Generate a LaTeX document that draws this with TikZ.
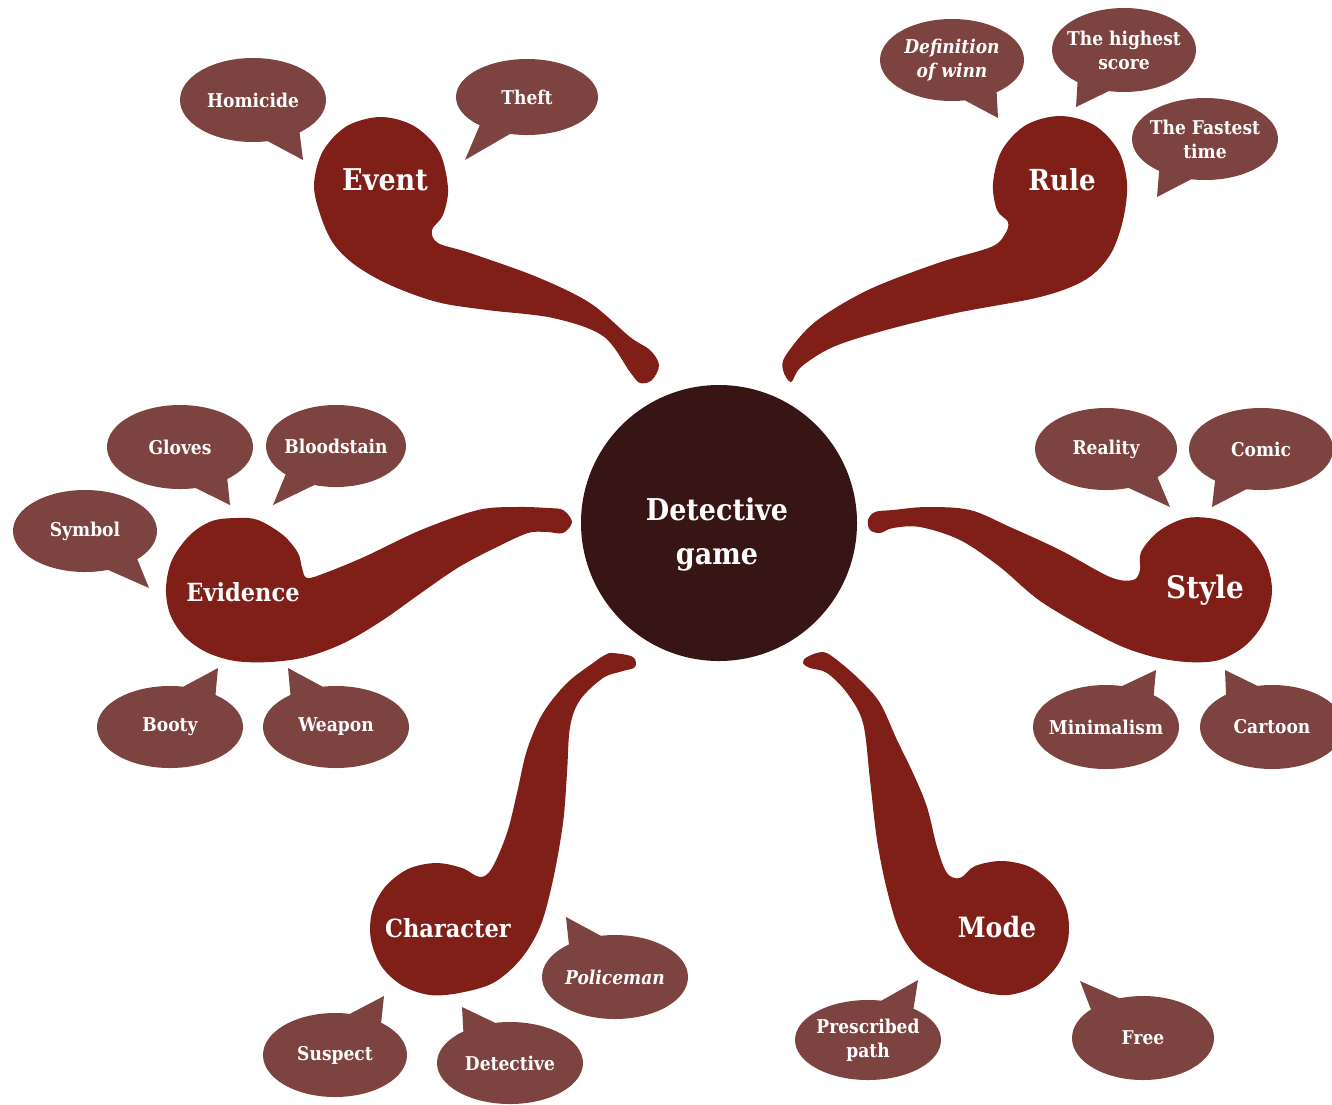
\documentclass[tikz,border=0pt]{standalone}
\usepackage{fontspec}
\setmainfont{DejaVu Serif Condensed}
\usetikzlibrary{calc}

\definecolor{pipered}{HTML}{801E18}
\definecolor{bubbrown}{HTML}{7D4340}
\definecolor{hubdark}{HTML}{371514}

\tikzset{
  bubfill/.style={fill=bubbrown},
  bubtext/.style={text=white, align=center, inner sep=0pt,
    font=\bfseries\fontsize{19}{24}\selectfont},
  pipelabel/.style={text=white, inner sep=0pt, font=\bfseries\fontsize{#1}{#1}\selectfont},
  hub/.style={circle, fill=hubdark, minimum size=276pt, inner sep=0pt},
  hubtext/.style={text=white, align=center, inner sep=0pt,
    font=\bfseries\fontsize{30}{44}\selectfont}
}

% speech bubble: name, centre, x radius, y radius, tail tip, text
% the tail leaves the ellipse where the direction to its tip crosses the rim
\newcommand\bubble[6]{%
  \fill[bubfill] (#2) ellipse [x radius=#3, y radius=#4];
  \fill[bubfill] let \p1=($(#5)-(#2)$), \n1={atan2(-\y1/#4,\x1/#3)} in
    ($(#2)+(\n1-14:#3 and #4)$) -- (#5) -- ($(#2)+(\n1+14:#3 and #4)$) -- (#2) -- cycle;
  \node[bubtext] (#1) at (#2) {#6};
}

\begin{document}
\begin{tikzpicture}[x=1pt, y=-1pt]
\useasboundingbox (0,0) rectangle (1332,1104);
\clip (0,0) rectangle (1332,1104);

% ---------- pipes ----------
% Event
\fill[pipered] plot[smooth cycle, tension=0.55] coordinates {
 (381,117) (414,126) (439,151) (448,188) (443,215) (432,230) (438,243)
 (470,253) (537,277) (590,303) (630,337) (650,350) (659,365) (652,380) (640,383)
 (630,372) (603,336) (553,318) (487,310) (437,302) (390,285) (355,265) (333,243)
 (320,214) (314,184) (323,151) (347,126)};
% Rule
\fill[pipered] plot[smooth cycle, tension=0.55] coordinates {
 (1060,116) (1094,125) (1118,150) (1127,183) (1123,220) (1110,255) (1085,280)
 (1040,297) (956,313) (886,330) (833,347) (801,367) (791,382) (783,370)
 (786,355) (815,322) (868,290) (938,263) (991,247) (1005,234) (1008,222) (997,210)
 (993,183) (1002,150) (1026,125)};
% Evidence
\fill[pipered] plot[smooth cycle, tension=0.55] coordinates {
 (237,518) (258,520) (283,535) (298,553) (302,568) (307,578) (325,573) (364,557)
 (421,530) (478,510) (517,507) (547,508) (563,510) (572,522) (563,533) (547,532)
 (528,533) (497,547) (459,567) (421,593) (383,620) (344,643) (306,657) (270,662)
 (235,661) (206,652) (184,636) (170,614) (166,588) (172,560) (190,535) (212,521)};
% Style
\fill[pipered] plot[smooth cycle, tension=0.55] coordinates {
 (1187,518) (1219,520) (1246,535) (1265,560) (1272,590) (1265,620) (1246,645)
 (1219,660) (1187,662) (1150,656) (1110,641) (1043,603) (1000,567) (960,540)
 (920,527) (893,528) (880,533) (870,530) (868,520) (875,512) (893,510) (927,507)
 (970,510) (1010,527) (1060,550) (1110,577) (1133,580) (1140,570) (1141,552) (1159,531)};
% Character
\fill[pipered] plot[smooth cycle, tension=0.55] coordinates {
 (613,653) (633,657) (635,667) (623,671) (603,678) (580,700) (570,727) (567,773)
 (563,823) (553,880) (540,927) (520,960) (493,983) (459,993) (430,995) (403,986)
 (382,967) (371,940) (372,912) (385,887) (408,869) (436,863) (462,868) (480,877)
 (492,868) (507,833) (517,793) (527,750) (543,713) (567,683) (593,663) (605,655)};
% Mode
\fill[pipered] plot[smooth cycle, tension=0.55] coordinates {
 (807,657) (823,652) (837,660) (860,680) (880,703) (897,740) (913,773) (927,807)
 (937,847) (947,873) (960,878) (975,866) (1002,861) (1030,867) (1053,885)
 (1067,911) (1068,940) (1057,966) (1036,986) (1008,995) (979,991) (950,978)
 (920,960) (900,932) (887,890) (877,840) (870,780) (863,723) (847,693) (827,673)
 (810,668) (803,663)};

% ---------- hub ----------
\node[hub] (hub) at (719,523) {};
\node[hubtext] (title) at (717,534) {Detective\\game};

% ---------- category labels ----------
\node[pipelabel=30] (event) at (385,180) {Event};
\node[pipelabel=29] (rule) at (1062,180) {Rule};
\node[pipelabel=25] (evidence) at (243,592) {Evidence};
\node[pipelabel=31] (style) at (1205,590) {Style};
\node[pipelabel=25] (character) at (448,928) {Character};
\node[pipelabel=28] (mode) at (997,927) {Mode};

% ---------- bubbles ----------
\bubble{homicide}{253,100}{73}{42}{303,160}{Homicide}
\bubble{theft}{527,97}{71}{38}{465,160}{Theft}
\bubble{defwin}{952,60}{72}{41}{998,118}{{\itshape Definition}\\{\itshape of winn}}
\bubble{highest}{1124,50}{72}{42}{1076,107}{The highest\\score}
\bubble{fastest}{1205,139}{73}{41}{1157,197}{The Fastest\\time}

\bubble{gloves}{180,447}{73}{42}{230,505}{Gloves}
\bubble{bloodstain}{336,446}{70}{41}{273,505}{Bloodstain}
\bubble{symbol}{85,531}{72}{41}{149,588}{Symbol}
\bubble{booty}{170,727}{73}{41}{218,668}{Booty}
\bubble{weapon}{336,727}{73}{41}{288,668}{Weapon}

\bubble{reality}{1106,449}{71}{41}{1170,507}{Reality}
\bubble{comic}{1261,449}{72}{41}{1212,507}{Comic}
\bubble{minimalism}{1106,727}{73}{42}{1156,670}{Minimalism}
\bubble{cartoon}{1272,727}{72}{42}{1225,670}{Cartoon}

\bubble{policeman}{615,977}{73}{42}{566,917}{\itshape Policeman}
\bubble{suspect}{335,1055}{72}{42}{384,996}{Suspect}
\bubble{detective}{510,1063}{73}{41}{462,1007}{Detective}

\bubble{prescribed}{868,1040}{73}{40}{918,980}{Prescribed\\path}
\bubble{free}{1143,1038}{71}{42}{1080,981}{Free}
\end{tikzpicture}
\end{document}
